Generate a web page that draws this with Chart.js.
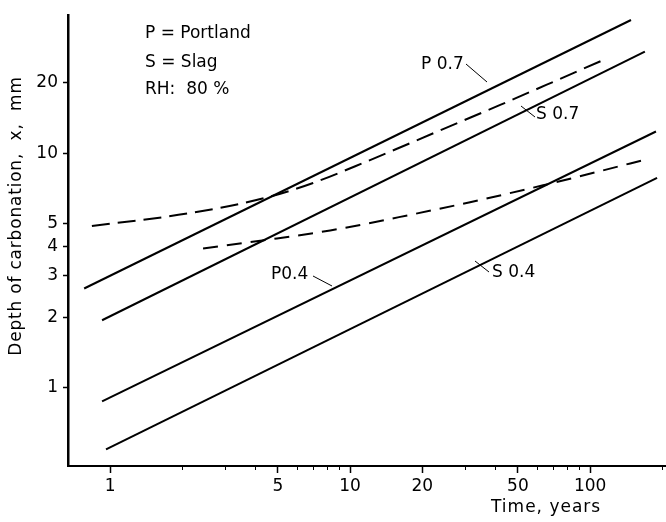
<!DOCTYPE html>
<html>
<head>
<meta charset="utf-8">
<script src="https://cdn.jsdelivr.net/npm/chart.js@4"></script>
<style>
  html, body { margin: 0; padding: 0; background: #fff; }
  #wrap { width: 666px; height: 522px; }
</style>
</head>
<body>
<div id="wrap"><canvas id="chart" width="666" height="522"></canvas></div>
<script>
// axis ticks
const xMajorTicks = [1, 5, 10, 20, 50, 100];
const xMinorTicks = [2, 3, 4, 6, 7, 8, 9, 30, 40, 60, 70, 80, 90, 200];
const yTicks = [1, 2, 3, 4, 5, 10, 20];

// solid lines (time in years, depth in mm)
const p07Years = [0.78, 148];
const p07Depth = [2.65, 37.1];
const s07Years = [0.926, 169];
const s07Depth = [1.94, 27.2];
const p04Years = [0.926, 188];
const p04Depth = [0.874, 12.4];
const s04Years = [0.962, 190];
const s04Depth = [0.545, 7.86];

// dashed curves
const upperDashYears = [0.84, 2.15, 4.51, 7.01, 11.7, 24.4, 42.2, 65.6, 112];
const upperDashDepth = [4.9, 5.56, 6.49, 7.48, 9.23, 12.7, 16.1, 19.6, 24.9];
const lowerDashYears = [2.44, 4.3, 8.26, 18.3, 31.6, 63.7, 107, 173];
const lowerDashDepth = [3.93, 4.25, 4.69, 5.5, 6.19, 7.31, 8.34, 9.46];

const FONT = '"DejaVu Sans", sans-serif';

function pts(xs, ys) {
  return xs.map((x, i) => ({ x: x, y: ys[i] }));
}

function solid(data) {
  return { data: data, borderColor: '#000', borderWidth: 2, pointRadius: 0, fill: false };
}
function dashed(data, dash) {
  return {
    data: data, borderColor: '#000', borderWidth: 2, borderDash: dash,
    pointRadius: 0, fill: false, cubicInterpolationMode: 'monotone'
  };
}

const extras = {
  id: 'extras',
  afterDraw(chart) {
    const ctx = chart.ctx;
    const xs = chart.scales.x;
    const bottom = chart.chartArea.bottom;
    ctx.save();
    ctx.strokeStyle = '#000';
    // minor ticks on time axis
    ctx.lineWidth = 1;
    xMinorTicks.forEach(v => {
      const px = Math.round(xs.getPixelForValue(v)) + 0.5;
      ctx.beginPath();
      ctx.moveTo(px, bottom);
      ctx.lineTo(px, bottom + 4);
      ctx.stroke();
    });

    ctx.fillStyle = '#000';
    ctx.font = '17px ' + FONT;
    ctx.textBaseline = 'middle';
    ctx.textAlign = 'left';
    ctx.fillText('P = Portland', 145, 34);
    ctx.fillText('S = Slag', 145, 63);
    ctx.fillText('RH:  80 %', 145, 90);

    // curve labels with leader lines
    ctx.fillText('P 0.7', 421, 65);
    ctx.fillText('S 0.7', 536, 115);
    ctx.fillText('P0.4', 271, 275);
    ctx.fillText('S 0.4', 492, 273);
    ctx.lineWidth = 1;
    [[466, 64, 487, 82], [521, 106, 535, 117], [313, 276, 332, 286], [475, 261, 489, 272]].forEach(l => {
      ctx.beginPath();
      ctx.moveTo(l[0], l[1]);
      ctx.lineTo(l[2], l[3]);
      ctx.stroke();
    });

    // axis titles
    ctx.letterSpacing = '1px';
    ctx.fillText('Time, years', 491, 508);
    ctx.translate(17, 216);
    ctx.rotate(-Math.PI / 2);
    ctx.textAlign = 'center';
    ctx.letterSpacing = '0.8px';
    ctx.fillText('Depth of carbonation,  x,  mm', 0, 0);
    ctx.restore();
  }
};

new Chart(document.getElementById('chart'), {
  type: 'line',
  data: {
    datasets: [
      solid(pts(p07Years, p07Depth)),
      solid(pts(s07Years, s07Depth)),
      solid(pts(p04Years, p04Depth)),
      solid(pts(s04Years, s04Depth)),
      dashed(pts(upperDashYears, upperDashDepth), [18, 8]),
      dashed(pts(lowerDashYears, lowerDashDepth), [15, 9])
    ]
  },
  options: {
    responsive: false,
    animation: false,
    devicePixelRatio: 1,
    layout: { padding: { top: 7, right: 0, left: 0, bottom: 0 } },
    plugins: { legend: { display: false }, tooltip: { enabled: false } },
    scales: {
      x: {
        type: 'logarithmic',
        min: 0.668,
        max: 207,
        bounds: 'data',
        afterBuildTicks: s => { s.ticks = xMajorTicks.map(v => ({ value: v })); },
        afterFit: s => { s.height = 56; },
        grid: { drawOnChartArea: false, tickLength: 7, tickWidth: 1.5, tickColor: '#000' },
        border: { display: true, color: '#000', width: 2 },
        ticks: {
          color: '#000', font: { family: FONT, size: 17 }, padding: 3,
          maxRotation: 0, autoSkip: false,
          callback: v => String(v)
        }
      },
      y: {
        type: 'logarithmic',
        min: 0.463,
        max: 38.9,
        bounds: 'data',
        afterBuildTicks: s => { s.ticks = yTicks.map(v => ({ value: v })); },
        afterFit: s => { s.width = 68; },
        grid: { drawOnChartArea: false, tickLength: 5, tickWidth: 1.5, tickColor: '#000' },
        border: { display: true, color: '#000', width: 2.5 },
        ticks: {
          color: '#000', font: { family: FONT, size: 17 }, padding: 5,
          autoSkip: false,
          callback: v => String(v)
        }
      }
    }
  },
  plugins: [extras]
});
</script>
</body>
</html>
